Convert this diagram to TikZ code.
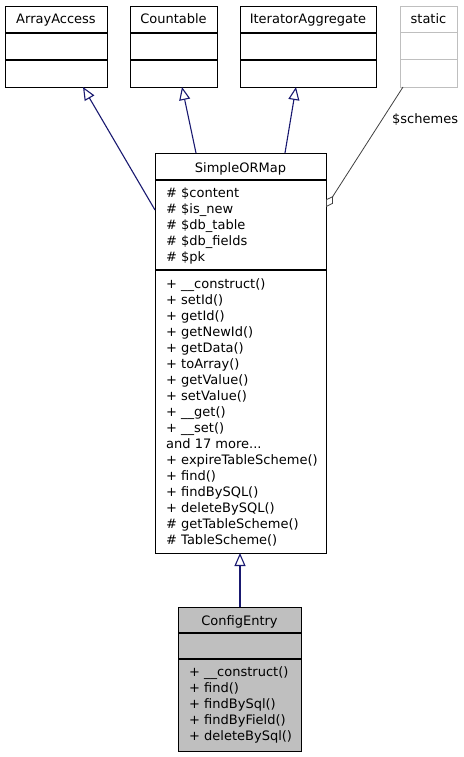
\documentclass[tikz,border=0pt]{standalone}
\usepackage{fontspec}
\setmainfont{DejaVu Sans}
\usetikzlibrary{arrows.meta}
\definecolor{navy}{HTML}{191970}
\definecolor{grlight}{HTML}{BFBFBF}
\definecolor{grdark}{HTML}{404040}
\newcommand{\threedots}{...}
\tikzset{
  cls/.style={draw=black, line width=1pt, inner sep=0pt, anchor=north west},
  lightcls/.style={draw=grlight, line width=1pt, inner sep=0pt, anchor=north west},
  txt/.style={inner sep=0pt, anchor=base west, font=\fontsize{13}{16}\selectfont},
  ttl/.style={inner sep=0pt, anchor=base, font=\fontsize{13}{16}\selectfont},
  divider/.style={line width=1.2pt},
  gen/.style={draw=navy, line width=1.1pt, -{Triangle[open, length=13pt, width=11pt]}},
  agg/.style={draw=grdark, line width=0.8pt, {Diamond[open, length=13pt, width=8pt]}-}
}
\begin{document}
\begin{tikzpicture}[x=1pt, y=-1pt]
\useasboundingbox (0,0) rectangle (463,757);
% ArrayAccess
\node[cls, minimum width=102, minimum height=81] (aa) at (5,6) {};
\draw[divider] (5,33) -- (107,33);
\draw[divider] (5,60) -- (107,60);
\node[ttl] (aat) at (56,24) {ArrayAccess};
% Countable
\node[cls, minimum width=87, minimum height=81] (co) at (130,6) {};
\draw[divider] (130,33) -- (217,33);
\draw[divider] (130,60) -- (217,60);
\node[ttl] (cot) at (173.5,24) {Countable};
% IteratorAggregate
\node[cls, minimum width=136, minimum height=81] (ia) at (240,6) {};
\draw[divider] (240,33) -- (376,33);
\draw[divider] (240,60) -- (376,60);
\node[ttl] (iat) at (308,24) {IteratorAggregate};
% static
\node[lightcls, minimum width=57, minimum height=81] (st) at (400,6) {};
\draw[draw=grlight, line width=1pt] (400,33) -- (457,33);
\draw[draw=grlight, line width=1pt] (400,60) -- (457,60);
\node[ttl] (stt) at (428.5,24) {static};
% SimpleORMap
\node[cls, minimum width=171, minimum height=400] (so) at (155,153) {};
\draw[divider] (155,180) -- (326,180);
\draw[divider] (155,270) -- (326,270);
\node[ttl] (sot) at (240.5,172) {SimpleORMap};
\foreach \t [count=\i] in {\# \$content, \# \$is\_new, \# \$db\_table, \# \$db\_fields, \# \$pk}
  \node[txt] (soa\i) at (166,{197+16*(\i-1)}) {\t};
\foreach \t [count=\i] in {+ \_\_construct(), + setId(), + getId(), + getNewId(), + getData(), + toArray(), + getValue(), + setValue(), + \_\_get(), + \_\_set(), and 17 more\threedots, + expireTableScheme(), + find(), + findBySQL(), + deleteBySQL(), \# getTableScheme(), \# TableScheme()}
  \node[txt] (som\i) at (166,{288.5+16*(\i-1)}) {\t};
% ConfigEntry
\node[cls, fill=grlight, minimum width=123, minimum height=144] (ce) at (178,607) {};
\draw[divider] (178,633) -- (301,633);
\draw[divider] (178,659) -- (301,659);
\node[ttl] (cet) at (239.5,625) {ConfigEntry};
\foreach \t [count=\i] in {+ \_\_construct(), + find(), + findBySql(), + findByField(), + deleteBySql()}
  \node[txt] (cem\i) at (189,{676.5+16*(\i-1)}) {\t};
% connectors
\coordinate (aatip) at (83,87);
\coordinate (aafrom) at (155,210);
\coordinate (cotip) at (182,87);
\coordinate (cofrom) at (196,153);
\coordinate (iatip) at (296,87);
\coordinate (iafrom) at (285,153);
\coordinate (stfrom) at (403,87);
\coordinate (sotip) at (326,207);
\coordinate (cefrom) at (240,607);
\coordinate (cetip) at (240,553);
\draw[gen] (aafrom) -- (aatip);
\draw[gen] (cofrom) -- (cotip);
\draw[gen] (iafrom) -- (iatip);
\draw[gen] (cefrom) -- (cetip);
\draw[agg] (sotip) -- (stfrom);
\node[txt] (schemes) at (392,124) {\$schemes};
\end{tikzpicture}
\end{document}
